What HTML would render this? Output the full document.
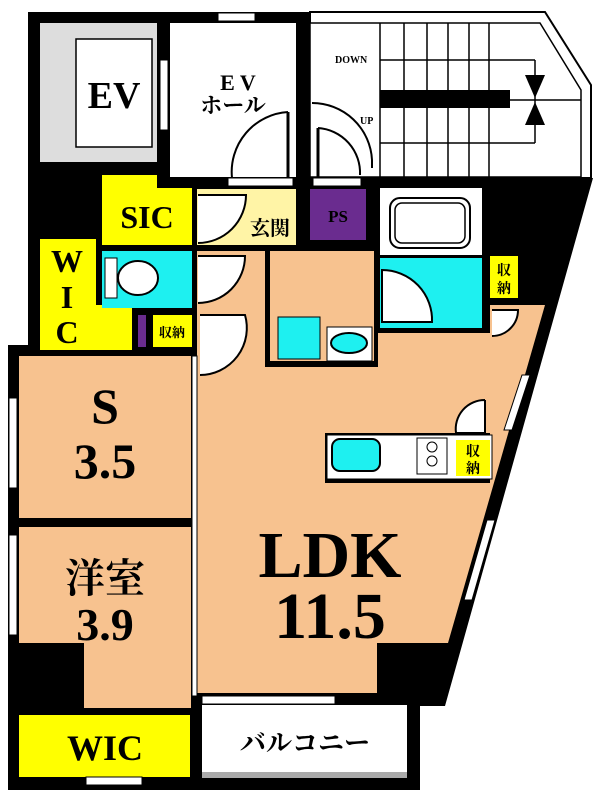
<!DOCTYPE html>
<html><head><meta charset="utf-8"><style>
html,body{margin:0;padding:0;background:#fff;}
svg{display:block;}
text{font-family:"Liberation Serif","Noto Serif CJK JP",serif;font-weight:bold;fill:#000;}
</style></head><body>
<svg width="601" height="800" viewBox="0 0 601 800" xmlns="http://www.w3.org/2000/svg">
<!-- building black mass -->
<polygon points="28,12 310,12 310,178 593,178 445,706 420,706 420,790 8,790 8,345 28,345" fill="#000"/>
<!-- stair -->
<polygon points="310,12 545,12 591,85 591,178 310,178" fill="#fff" stroke="#000" stroke-width="2"/>
<polygon points="310,23 540,23 581,90 581,177 310,177" fill="#fff" stroke="#000" stroke-width="1.5"/>
<rect x="296" y="12" width="14" height="166" fill="#000"/>
<g stroke="#000" stroke-width="1.5">
<line x1="380" y1="23" x2="380" y2="177"/><line x1="404" y1="23" x2="404" y2="177"/>
<line x1="427" y1="23" x2="427" y2="177"/><line x1="448" y1="23" x2="448" y2="177"/>
<line x1="469" y1="23" x2="469" y2="177"/><line x1="489" y1="23" x2="489" y2="177"/>
<line x1="380" y1="60" x2="535" y2="60"/><line x1="380" y1="143" x2="535" y2="143"/>
<line x1="535" y1="60" x2="535" y2="143"/><line x1="510" y1="100" x2="581" y2="100"/>
</g>
<rect x="380" y="90" width="130" height="18" fill="#000"/>
<polygon points="525,75 545,75 535,98" fill="#000"/>
<polygon points="525,125 545,125 535,102" fill="#000"/>
<text x="335" y="63" font-size="10" font-weight="normal">DOWN</text>
<text x="360" y="124" font-size="10" font-weight="normal">UP</text>
<!-- top window -->
<rect x="218" y="13" width="37" height="8" fill="#fff" stroke="#000" stroke-width="1"/>
<!-- EV -->
<rect x="40" y="23" width="117" height="139" fill="#ddd"/>
<rect x="76" y="39" width="76" height="108" fill="#fff" stroke="#000" stroke-width="1.5"/>
<text x="114" y="108" font-size="38" text-anchor="middle">EV</text>
<rect x="160" y="60" width="8" height="70" fill="#fff" stroke="#000" stroke-width="1"/>
<!-- EV hall -->
<rect x="170" y="23" width="126" height="154" fill="#fff"/>
<text x="238" y="90" font-size="22" text-anchor="middle">E V</text>
<text x="233" y="113" font-size="22" text-anchor="middle">ホール</text>
<path d="M288,112 A60,60 0 0 0 232,178" fill="#fff" stroke="#000" stroke-width="2"/>
<line x1="288" y1="112" x2="288" y2="178" stroke="#000" stroke-width="3"/>
<path d="M318,128 A45,45 0 0 1 360,175" fill="#fff" stroke="#000" stroke-width="2"/>
<line x1="318" y1="128" x2="318" y2="178" stroke="#000" stroke-width="3"/>
<path d="M312,103 A60,60 0 0 1 372,160 L372,168" fill="none" stroke="#000" stroke-width="2"/>
<rect x="228" y="178" width="65" height="8" fill="#fff" stroke="#000"/>
<rect x="313" y="178" width="48" height="8" fill="#fff" stroke="#000"/>
<!-- SIC -->
<polygon points="102,175 157,175 157,188 192,188 192,245 102,245" fill="#ff0"/>
<text x="147" y="228" font-size="32" text-anchor="middle">SIC</text>
<!-- genkan -->
<rect x="197" y="189" width="99" height="56" fill="#fff4a6"/>
<path d="M198,195 L246,195 A48,48 0 0 1 198,243" fill="#fff" stroke="#000" stroke-width="2"/>
<text x="270" y="235" font-size="20" text-anchor="middle">玄関</text>
<!-- PS -->
<rect x="310" y="189" width="56" height="51" fill="#6a2c8f"/>
<text x="338" y="222" font-size="17" text-anchor="middle">PS</text>
<!-- bath -->
<rect x="380" y="188" width="102" height="67" fill="#fff"/>
<rect x="390" y="198" width="80" height="50" rx="10" fill="none" stroke="#000" stroke-width="2"/>
<rect x="395" y="203" width="70" height="40" rx="7" fill="none" stroke="#000" stroke-width="1.5"/>
<rect x="380" y="258" width="102" height="70" fill="#1ef0f0"/>
<path d="M382,270 A50,50 0 0 1 432,322 L382,322 Z" fill="#fff" stroke="#000" stroke-width="2"/>
<rect x="490" y="256" width="28" height="42" fill="#ff0"/>
<text x="504" y="275" font-size="14" text-anchor="middle">収</text>
<text x="504" y="293" font-size="14" text-anchor="middle">納</text>
<!-- WIC upper -->
<polygon points="40,239 96,239 96,305 132,305 132,350 40,350" fill="#ff0"/>
<text x="67" y="272" font-size="32" text-anchor="middle">W</text>
<text x="67" y="308" font-size="32" text-anchor="middle">I</text>
<text x="67" y="343" font-size="32" text-anchor="middle">C</text>
<!-- toilet -->
<rect x="102" y="251" width="90" height="57" fill="#1ef0f0"/>
<rect x="105" y="258" width="12" height="40" fill="#fff" stroke="#000"/>
<ellipse cx="138" cy="278" rx="20" ry="17" fill="#fff" stroke="#000" stroke-width="2"/>
<rect x="138" y="315" width="8" height="32" fill="#6a2c8f"/>
<rect x="153" y="315" width="39" height="32" fill="#ff0"/>
<text x="172" y="337" font-size="13" text-anchor="middle">収納</text>
<!-- hallway -->
<rect x="197" y="251" width="68" height="60" fill="#f7c28f"/>
<path d="M198,256 L245,256 A47,47 0 0 1 198,303" fill="#fff" stroke="#000" stroke-width="2"/>
<!-- washroom -->
<rect x="270" y="251" width="104" height="110" fill="#f7c28f"/>
<rect x="278" y="317" width="42" height="42" fill="#1ef0f0" stroke="#000"/>
<rect x="327" y="327" width="45" height="34" fill="#fff" stroke="#000"/>
<ellipse cx="349" cy="343" rx="18" ry="10" fill="#1ef0f0" stroke="#000" stroke-width="2"/>
<!-- LDK -->
<polygon points="197,311 265,311 265,367 378,367 378,333 490,333 490,305 545,305 448,643 377,643 377,693 197,693" fill="#f7c28f"/>
<path d="M200,315 L245,315 A47,47 0 0 1 200,375" fill="#fff" stroke="#000" stroke-width="2"/>
<path d="M492,310 L518,310 A26,26 0 0 1 492,336" fill="#fff" stroke="#000" stroke-width="2"/>
<path d="M485,400 L485,433 L456,433 A29,29 0 0 1 485,400" fill="#fff" stroke="#000" stroke-width="2"/>
<rect x="325" y="433" width="165" height="50" fill="#000"/>
<rect x="327" y="435" width="165" height="44" fill="#fff" stroke="#000"/>
<rect x="332" y="439" width="48" height="32" rx="8" fill="#1ef0f0" stroke="#000" stroke-width="2"/>
<rect x="417" y="438" width="30" height="36" fill="#fff" stroke="#000"/>
<circle cx="432" cy="447" r="5" fill="#fff" stroke="#000"/><circle cx="432" cy="461" r="5" fill="#fff" stroke="#000"/>
<rect x="456" y="440" width="34" height="36" fill="#ff0"/>
<text x="473" y="456" font-size="14" text-anchor="middle">収</text>
<text x="473" y="473" font-size="14" text-anchor="middle">納</text>
<text x="330" y="577" font-size="66" text-anchor="middle" font-weight="normal">LDK</text>
<text x="330" y="638" font-size="66" text-anchor="middle" font-weight="normal">11.5</text>
<!-- S room -->
<rect x="19" y="356" width="172" height="162" fill="#f7c28f"/>
<text x="105" y="423" font-size="50" text-anchor="middle">S</text>
<text x="105" y="478" font-size="50" text-anchor="middle">3.5</text>
<!-- western room -->
<rect x="19" y="527" width="172" height="116" fill="#f7c28f"/>
<rect x="84" y="640" width="107" height="68" fill="#f7c28f"/>
<text x="105" y="592" font-size="40" text-anchor="middle">洋室</text>
<text x="105" y="640" font-size="46" text-anchor="middle">3.9</text>
<rect x="192" y="356" width="5" height="340" fill="#fff" stroke="#000" stroke-width="1"/>
<!-- windows left -->
<rect x="9" y="398" width="8" height="90" fill="#fff" stroke="#000"/>
<rect x="9" y="535" width="8" height="100" fill="#fff" stroke="#000"/>
<!-- right windows -->
<polygon points="522,375 530,375 512,430 504,430" fill="#fff" stroke="#000"/>
<polygon points="487,520 495,520 472,600 464,600" fill="#fff" stroke="#000"/>
<!-- WIC bottom -->
<rect x="19" y="715" width="171" height="62" fill="#ff0"/>
<text x="105" y="760" font-size="36" text-anchor="middle">WIC</text>
<rect x="86" y="777" width="56" height="8" fill="#fff" stroke="#000"/>
<!-- balcony -->
<rect x="202" y="705" width="205" height="73" fill="#fff"/>
<rect x="202" y="772" width="205" height="6" fill="#aaa"/>
<rect x="202" y="696" width="133" height="8" fill="#fff" stroke="#000"/>
<text x="305" y="752" font-size="26" text-anchor="middle" font-weight="normal">バルコニー</text>
</svg>
</body></html>
